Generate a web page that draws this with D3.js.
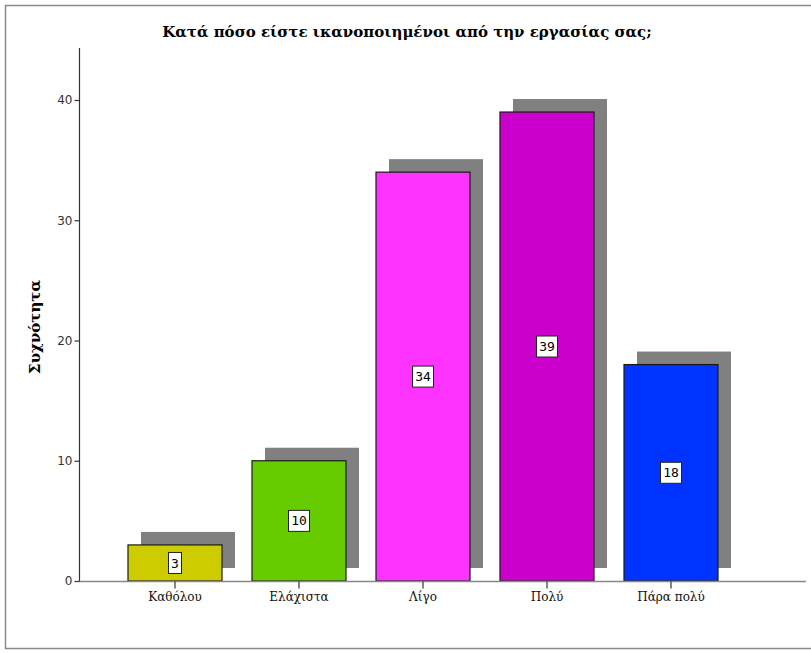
<!DOCTYPE html>
<html>
<head>
<meta charset="utf-8">
<script src="https://cdn.jsdelivr.net/npm/d3@7"></script>
<style>
  html, body { margin: 0; padding: 0; background: #fff; }
  svg { display: block; }
</style>
</head>
<body>
<svg id="chart" width="811" height="653"></svg>
<script>
// Survey answers and their frequencies
const categories = ["Καθόλου", "Ελάχιστα", "Λίγο", "Πολύ", "Πάρα πολύ"];
const counts = [3, 10, 34, 39, 18];
const barColors = ["#CCCC00", "#66CC00", "#FF33FF", "#CC00CC", "#0033FF"];
const yTicks = [0, 10, 20, 30, 40];
const titleText = "Κατά πόσο είστε ικανοποιημένοι από την εργασίας σας;";
const yLabel = "Συχνότητα";

const svg = d3.select("#chart");
const serif = "'DejaVu Serif', 'Liberation Serif', serif";

// Outer frame
svg.append("rect")
  .attr("x", 5.5).attr("y", 5.5)
  .attr("width", 820).attr("height", 643)
  .attr("fill", "none").attr("stroke", "#8a8a8a").attr("stroke-width", 1.5);

const x = d3.scaleBand()
  .domain(categories)
  .range([98, 748])
  .padding(0.2419);

const y = d3.scaleLinear()
  .domain([0, 40])
  .range([581, 100]);

const shadowDx = 13, shadowDy = -13;

// Drop shadows behind the bars
svg.append("g").selectAll("rect")
  .data(counts)
  .join("rect")
  .attr("x", (d, i) => x(categories[i]) + shadowDx)
  .attr("y", d => y(d) + shadowDy)
  .attr("width", x.bandwidth())
  .attr("height", d => y(0) - y(d))
  .attr("fill", "#808080");

// Bars
svg.append("g").selectAll("rect")
  .data(counts)
  .join("rect")
  .attr("x", (d, i) => x(categories[i]))
  .attr("y", d => y(d))
  .attr("width", x.bandwidth())
  .attr("height", d => y(0) - y(d))
  .attr("fill", (d, i) => barColors[i])
  .attr("stroke", "#1a1a1a")
  .attr("stroke-width", 1.2);

// X axis line
svg.append("line")
  .attr("x1", 79).attr("x2", 806)
  .attr("y1", y(0) + 0.5).attr("y2", y(0) + 0.5)
  .attr("stroke", "#888").attr("stroke-width", 1.3);

// X axis ticks and labels
const xAxis = d3.axisBottom(x).tickSize(7).tickSizeOuter(0).tickPadding(4);
const gx = svg.append("g")
  .attr("transform", `translate(0,${y(0) + 0.5})`)
  .call(xAxis);
gx.select(".domain").remove();
gx.selectAll(".tick line").attr("stroke", "#333").attr("stroke-width", 1.2);
gx.selectAll(".tick text")
  .attr("font-family", serif)
  .attr("font-size", 12)
  .attr("fill", "#111");

// Y axis
const yAxis = d3.axisLeft(y).tickValues(yTicks).tickSize(5).tickSizeOuter(0).tickPadding(2);
const gy = svg.append("g")
  .attr("transform", "translate(79.5,0)")
  .call(yAxis);
gy.select(".domain").attr("d", `M0,48V${y(0)}`).attr("stroke", "#333").attr("stroke-width", 1.2);
gy.selectAll(".tick line").attr("stroke", "#333").attr("stroke-width", 1.2);
gy.selectAll(".tick text")
  .attr("font-family", "'DejaVu Sans', sans-serif")
  .attr("font-size", 12)
  .attr("fill", "#333");

// Value labels in white boxes at bar mid-height
const labels = svg.append("g").selectAll("g")
  .data(counts)
  .join("g")
  .attr("transform", (d, i) => `translate(${x(categories[i]) + x.bandwidth() / 2},${y(d / 2)})`);
labels.append("text")
  .attr("text-anchor", "middle")
  .attr("dy", "0.35em")
  .attr("font-family", "'DejaVu Sans Mono', monospace")
  .attr("font-size", 13)
  .attr("fill", "#000")
  .text(d => d);
labels.each(function () {
  const g = d3.select(this);
  const bb = g.select("text").node().getBBox();
  g.insert("rect", "text")
    .attr("x", Math.round(bb.x) - 2.5)
    .attr("y", -10.5)
    .attr("width", Math.round(bb.width) + 5)
    .attr("height", 21)
    .attr("fill", "#fff")
    .attr("stroke", "#222")
    .attr("stroke-width", 1);
});

// Title
svg.append("text")
  .attr("x", 407).attr("y", 37)
  .attr("text-anchor", "middle")
  .attr("font-family", serif)
  .attr("font-weight", "bold")
  .attr("font-size", 15)
  .attr("fill", "#000")
  .text(titleText);

// Y axis title
svg.append("text")
  .attr("transform", "translate(40,327) rotate(-90)")
  .attr("text-anchor", "middle")
  .attr("font-family", serif)
  .attr("font-weight", "bold")
  .attr("font-size", 15)
  .attr("fill", "#000")
  .text(yLabel);
</script>
</body>
</html>
